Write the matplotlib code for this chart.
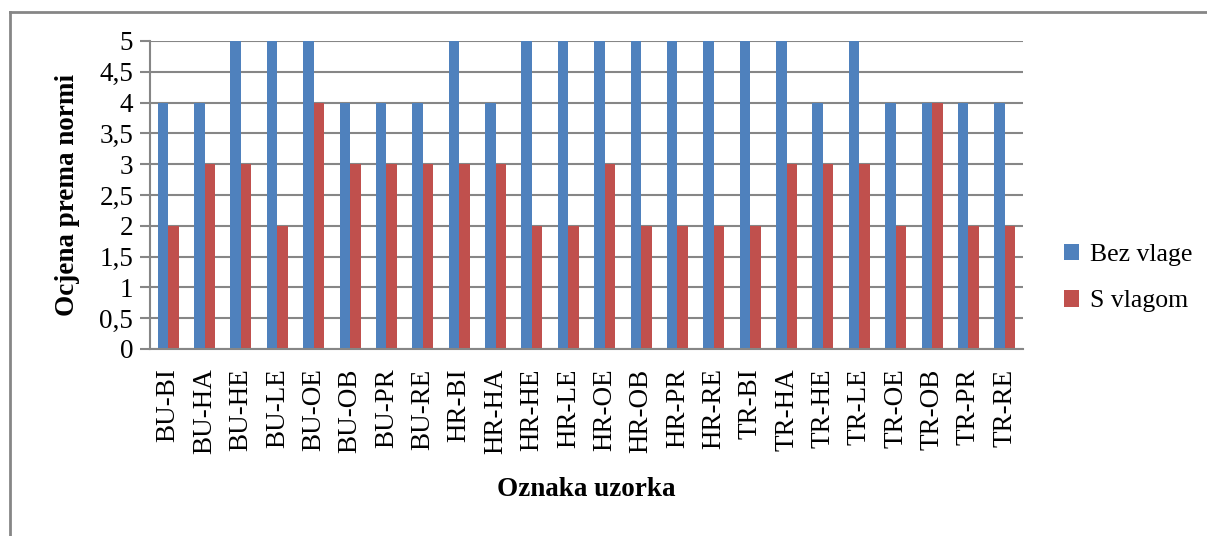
import matplotlib
matplotlib.use("Agg")
import matplotlib.pyplot as plt
from matplotlib.lines import Line2D
import numpy as np

categories = ["BU-BI", "BU-HA", "BU-HE", "BU-LE", "BU-OE", "BU-OB", "BU-PR", "BU-RE",
              "HR-BI", "HR-HA", "HR-HE", "HR-LE", "HR-OE", "HR-OB", "HR-PR", "HR-RE",
              "TR-BI", "TR-HA", "TR-HE", "TR-LE", "TR-OE", "TR-OB", "TR-PR", "TR-RE"]
bez_vlage = [4, 4, 5, 5, 5, 4, 4, 4, 5, 4, 5, 5, 5, 5, 5, 5, 5, 5, 4, 5, 4, 4, 4, 4]
s_vlagom = [2, 3, 3, 2, 4, 3, 3, 3, 3, 3, 2, 2, 3, 2, 2, 2, 2, 3, 3, 3, 2, 4, 2, 2]
yticks = [0, 0.5, 1, 1.5, 2, 2.5, 3, 3.5, 4, 4.5, 5]
ytick_labels = ["0", "0,5", "1", "1,5", "2", "2,5", "3", "3,5", "4", "4,5", "5"]

plt.rcParams['font.family'] = ['Liberation Serif', 'DejaVu Serif']

fig = plt.figure(figsize=(12.07, 5.36), dpi=100)
ax = fig.add_axes([150/1207, 1-349/536, (1023-150)/1207, (349-41)/536])

x = np.arange(len(categories))
w = 0.29
ax.bar(x - w/2, bez_vlage, width=w, color="#4F81BD", label="Bez vlage", zorder=3)
ax.bar(x + w/2, s_vlagom, width=w, color="#C0504D", label="S vlagom", zorder=3)

ax.set_xlim(-0.5, len(categories) - 0.5)
ax.set_ylim(0, 5)
ax.set_yticks(yticks)
ax.set_yticklabels(ytick_labels, fontsize=19.5)
ax.set_xticks(x)
ax.set_xticklabels(categories, rotation=90, fontsize=19.5)
ax.tick_params(axis='x', length=0, pad=14)
ax.tick_params(axis='y', length=7, width=1.5, color="#868686", pad=5)
ax.yaxis.grid(True, color="#868686", linewidth=1.5, zorder=0)
for s in ["top", "right"]:
    ax.spines[s].set_visible(False)
for s in ["left", "bottom"]:
    ax.spines[s].set_color("#868686")
    ax.spines[s].set_linewidth(1.5)
ax.spines["bottom"].set_zorder(4)

ax.set_ylabel("Ocjena prema normi", fontsize=19.5, fontweight="bold", labelpad=14)
ax.set_xlabel("Oznaka uzorka", fontsize=19.5, fontweight="bold", labelpad=16)

leg = fig.legend(loc="center left", bbox_to_anchor=(1064/1207, 1-278/536), frameon=False,
                 fontsize=18.5, handlelength=0.6, handleheight=0.6, handletextpad=0.4,
                 labelspacing=0.95, borderaxespad=0, borderpad=0)

# outer chart border (left and top)
fig.add_artist(Line2D([10/1207, 10/1207], [0, 1-11.5/536], transform=fig.transFigure,
                      color="#868686", linewidth=2))
fig.add_artist(Line2D([10/1207, 1], [1-11.5/536, 1-11.5/536], transform=fig.transFigure,
                      color="#868686", linewidth=2))

fig.savefig("out.png", dpi=100)
